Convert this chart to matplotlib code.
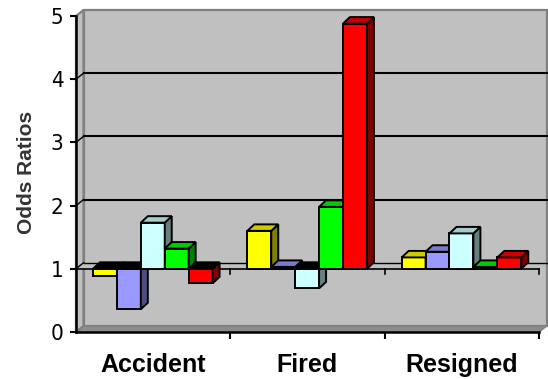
import matplotlib
matplotlib.use("Agg")
import matplotlib.pyplot as plt
from matplotlib.patches import Polygon
from matplotlib import font_manager

# Odds ratios by reason for leaving, five groups per reason
categories = ["Accident", "Fired", "Resigned"]
yellow_vals = [0.89, 1.60, 1.18]
blue_vals = [0.36, 1.03, 1.27]
cyan_vals = [1.73, 0.69, 1.56]
green_vals = [1.32, 1.98, 1.03]
red_vals = [0.77, 4.88, 1.18]
y_ticks = [0, 1, 2, 3, 4, 5]

series = [yellow_vals, blue_vals, cyan_vals, green_vals, red_vals]
# (front, top, side) shades for each series
shades = [
    ("#FFFF00", "#CCCC00", "#808000"),
    ("#9999FF", "#7A7ACC", "#4D4D80"),
    ("#CCFFFF", "#A3CCCC", "#668080"),
    ("#00FF00", "#00CC00", "#008000"),
    ("#FF0000", "#CC0000", "#800000"),
]


def narrow_font(size):
    """Pick a condensed face for the value axis if one is installed."""
    names = {f.name for f in font_manager.fontManager.ttflist}
    if "Liberation Sans Narrow" in names:
        return font_manager.FontProperties(family="Liberation Sans Narrow", size=size)
    fp = font_manager.FontProperties(family="DejaVu Sans", stretch="condensed", size=size)
    path = font_manager.findfont(fp, fallback_to_default=True)
    if "Condensed" in path:
        return font_manager.FontProperties(fname=path, size=size)
    return font_manager.FontProperties(family="Liberation Sans", size=size)


W, H, DPI = 548, 379, 100
fig = plt.figure(figsize=(W / DPI, H / DPI), dpi=DPI)
fig.patch.set_facecolor("white")

left_px, right_px, top_px, bot_px = 76, 539, 16, 332
ax = fig.add_axes([left_px / W, 1 - bot_px / H,
                   (right_px - left_px) / W, (bot_px - top_px) / H])
ax.set_xlim(0, 3)
ax.set_ylim(0, 5)
ax.set_facecolor("none")

# depth offset of the 3-D box, in data units
px_x = 3 / (right_px - left_px)
px_y = 5 / (bot_px - top_px)
DX = 7.5 * px_x
DY = 6.0 * px_y
BDX = 7.0 * px_x
BDY = 6.5 * px_y

wall = "#C0C0C0"
wall_edge = "#808080"


def poly(pts, fc, ec="black", lw=1.4, z=1):
    ax.add_patch(Polygon(pts, closed=True, facecolor=fc, edgecolor=ec,
                         linewidth=lw, zorder=z, clip_on=False,
                         joinstyle="miter"))


# walls and floor
poly([(DX, DY), (3 + DX, DY), (3 + DX, 5 + DY), (DX, 5 + DY)], wall, wall_edge, 1.6, 0.5)
poly([(0, 0), (DX, DY), (DX, 5 + DY), (0, 5)], wall, wall_edge, 1.6, 0.6)
poly([(0, 0), (3, 0), (3 + DX, DY), (DX, DY)], "#8C8C8C", wall_edge, 1.2, 0.7)

# gridlines on back and side walls
for v in [2, 3, 4]:
    ax.plot([DX, 3 + DX], [v + DY, v + DY], color="black", lw=1.5,
            zorder=0.8, clip_on=False)
    ax.plot([0, DX], [v, v + DY], color="black", lw=1.0, zorder=0.8,
            clip_on=False)

# reference plane at odds ratio 1
base = 1.0
poly([(0, base), (3, base), (3 + DX, base + DY), (DX, base + DY)], wall, "none", 0, 0.9)
ax.plot([DX, 3 + DX], [base + DY, base + DY], color="black", lw=1.0, zorder=0.95, clip_on=False)
ax.plot([0, DX], [base, base + DY], color="black", lw=1.0, zorder=0.95, clip_on=False)
ax.plot([0, 3], [base, base], color="black", lw=1.2, zorder=0.95, clip_on=False)
for xb in [1, 2, 3]:
    ax.plot([xb, xb], [base, base - 5 * px_y], color="black", lw=1.2,
            zorder=0.95, clip_on=False)

bar_w = 0.155
start = 0.11
z = 2
for ci in range(len(categories)):
    for si, vals in enumerate(series):
        v = vals[ci]
        x0 = ci + start + si * bar_w
        x1 = x0 + bar_w
        lo, hi = min(v, base), max(v, base)
        front, top, side = shades[si]
        poly([(x0, lo), (x1, lo), (x1, hi), (x0, hi)], front, z=z)
        poly([(x1, lo), (x1 + BDX, lo + BDY), (x1 + BDX, hi + BDY), (x1, hi)], side, z=z)
        top_c = top if v >= base else "black"
        poly([(x0, hi), (x1, hi), (x1 + BDX, hi + BDY), (x0 + BDX, hi + BDY)], top_c, z=z)
        z += 0.01

# axes styling
for s in ["top", "right"]:
    ax.spines[s].set_visible(False)
for s in ["left", "bottom"]:
    ax.spines[s].set_color("black")
    ax.spines[s].set_linewidth(1.8)
    ax.spines[s].set_zorder(5)

ax.set_yticks(y_ticks)
ax.set_yticklabels([str(t) for t in y_ticks], fontproperties=narrow_font(16))
ax.tick_params(axis="y", direction="out", length=4, width=1.5, pad=5, color="black")

ax.set_xticks([0.5, 1.5, 2.5])
ax.set_xticklabels(categories, family=["Liberation Sans", "DejaVu Sans"],
                   fontsize=18, fontweight="bold")
ax.tick_params(axis="x", which="major", length=0, pad=15)
ax.set_xticks([1, 2, 3], minor=True)
ax.tick_params(axis="x", which="minor", direction="out", length=5, width=1.5)

ax.set_ylabel("Odds Ratios", family=["Liberation Sans", "DejaVu Sans"],
              fontsize=15, fontweight="bold", color="#333333")
ax.yaxis.set_label_coords(-0.086, 0.506)

fig.savefig("out.png", dpi=DPI, facecolor="white")
